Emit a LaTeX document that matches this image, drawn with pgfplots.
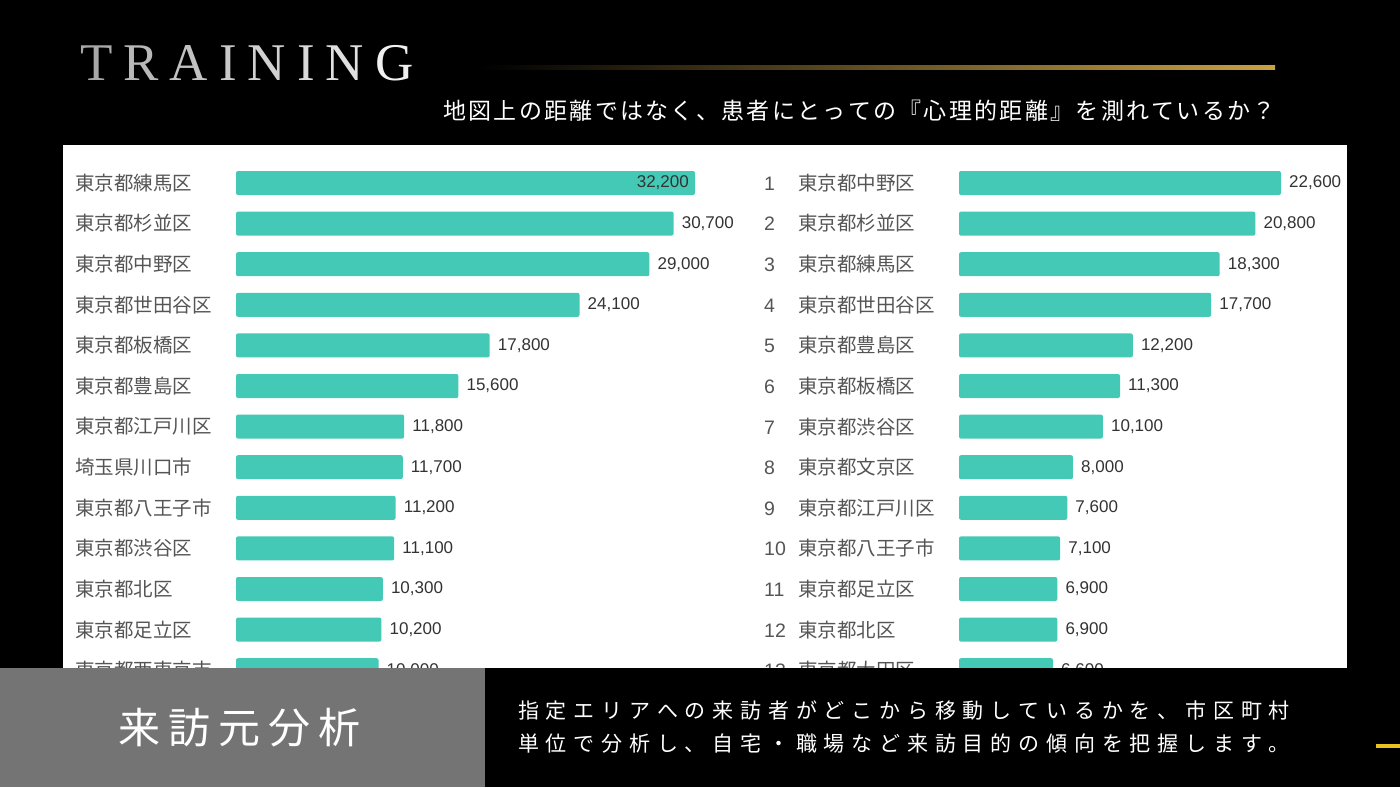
\documentclass[border=0pt]{standalone}
\usepackage{pgfplots}
\pgfplotsset{compat=1.18}
\usepackage{fontspec}
\setmainfont{Liberation Sans}
\newfontfamily\cjk{Noto Sans CJK JP}
\newfontfamily\serifT{Liberation Serif}
\definecolor{bar}{HTML}{43C9B5}
\definecolor{lbl}{HTML}{555555}
\definecolor{num}{HTML}{333333}
\definecolor{gold}{HTML}{C9A142}
\definecolor{panelgray}{HTML}{747474}
\definecolor{ylw}{HTML}{E6C21F}
\ExplSyntaxOn
\NewDocumentCommand\spread{mm}{\tl_map_inline:nn{#2}{##1\kern#1}\unkern}
\ExplSyntaxOff
\pgfplotsset{rankbar/.style={
  scale only axis, xbar, bar width=24pt, bar shift=0pt,
  ymin=0.5, ymax=13.5, y dir=reverse, xmin=0, height=527.8pt,
  axis line style={draw=none}, major tick length=0pt, xtick=\empty, ytick={1,...,13},
  clip=false, point meta=x,
  yticklabel style={anchor=west, inner sep=0pt, font=\cjk\fontsize{19.5}{20}\selectfont, text=lbl},
  nodes near coords={\pgfmathprintnumber[fixed,precision=0,1000 sep={,},assume math mode=true]{\pgfplotspointmeta}},
  every node near coord/.style={anchor=west, inner sep=0pt, xshift=8pt, font=\fontsize{17}{18}\selectfont, text=num},
}}
\begin{document}
\begin{tikzpicture}[x=1pt,y=1pt]
\path[use as bounding box] (0,0) rectangle (1400,-787);
\clip (0,0) rectangle (1400,-787);
\fill[black] (0,0) rectangle (1400,-787);
% title
\node[anchor=base west, inner sep=0pt, font=\serifT\fontsize{53}{55}\selectfont] at (80,-80)
 {{\color[gray]{0.66}T}\kern11pt{\color[gray]{0.72}R}\kern11pt{\color[gray]{0.76}A}\kern11pt{\color[gray]{0.79}I}\kern11pt{\color[gray]{0.82}N}\kern11pt{\color[gray]{0.85}I}\kern11pt{\color[gray]{0.88}N}\kern11pt{\color[gray]{0.94}G}};
\shade[left color=black, right color=gold] (480,-65) rectangle (1275,-69);
\node[anchor=west, inner sep=0pt, text=white, font=\cjk\fontsize{23}{24}\selectfont] at (443,-111)
 {\spread{2.3pt}{地図上の距離ではなく、患者にとっての『心理的距離』を測れているか？}};
% panel
\fill[white] (63,-145) rectangle (1347,-700);
\begin{axis}[rankbar, at={(236pt,-162.7pt)}, anchor=north west, width=459pt, xmax=32200,
  yticklabel style={xshift=-161pt},
  yticklabels={東京都練馬区,東京都杉並区,東京都中野区,東京都世田谷区,東京都板橋区,東京都豊島区,東京都江戸川区,埼玉県川口市,東京都八王子市,東京都渋谷区,東京都北区,東京都足立区,東京都西東京市}]
\addplot[fill=bar, draw=none, rounded corners=2pt,
  every node near coord/.style={anchor=east, inner sep=0pt, xshift=-6pt, font=\fontsize{17}{18}\selectfont, text=num}]
  coordinates {(32200,1)};
\addplot[fill=bar, draw=none, rounded corners=2pt] coordinates {
(30700,2) (29000,3) (24100,4) (17800,5) (15600,6) (11800,7) (11700,8)
(11200,9) (11100,10) (10300,11) (10200,12) (10000,13)};
\end{axis}
\begin{axis}[rankbar, at={(959pt,-162.7pt)}, anchor=north west, width=322pt, xmax=22600,
  yticklabel style={xshift=-195pt},
  yticklabels={\makebox[34pt][l]{\rmfamily 1}東京都中野区,\makebox[34pt][l]{\rmfamily 2}東京都杉並区,\makebox[34pt][l]{\rmfamily 3}東京都練馬区,\makebox[34pt][l]{\rmfamily 4}東京都世田谷区,\makebox[34pt][l]{\rmfamily 5}東京都豊島区,\makebox[34pt][l]{\rmfamily 6}東京都板橋区,\makebox[34pt][l]{\rmfamily 7}東京都渋谷区,\makebox[34pt][l]{\rmfamily 8}東京都文京区,\makebox[34pt][l]{\rmfamily 9}東京都江戸川区,\makebox[34pt][l]{\rmfamily 10}東京都八王子市,\makebox[34pt][l]{\rmfamily 11}東京都足立区,\makebox[34pt][l]{\rmfamily 12}東京都北区,\makebox[34pt][l]{\rmfamily 13}東京都大田区}]
\addplot[fill=bar, draw=none, rounded corners=2pt] coordinates {
(22600,1) (20800,2) (18300,3) (17700,4) (12200,5) (11300,6) (10100,7) (8000,8)
(7600,9) (7100,10) (6900,11) (6900,12) (6600,13)};
\end{axis}
% bottom overlay
\fill[panelgray] (0,-668) rectangle (485,-787);
\fill[black] (485,-668) rectangle (1400,-787);
\node[anchor=west, inner sep=0pt, text=white, font=\cjk\fontsize{42}{44}\selectfont] at (118,-728)
 {\spread{8pt}{来訪元分析}};
\node[anchor=west, inner sep=0pt, text=white, font=\cjk\fontsize{21}{22}\selectfont] at (518,-711)
 {\spread{6.8pt}{指定エリアへの来訪者がどこから移動しているかを、市区町村}};
\node[anchor=west, inner sep=0pt, text=white, font=\cjk\fontsize{21}{22}\selectfont] at (518,-744)
 {\spread{6.8pt}{単位で分析し、自宅・職場など来訪目的の傾向を把握します。}};
\fill[ylw] (1376,-744) rectangle (1400,-748);
\end{tikzpicture}
\end{document}
